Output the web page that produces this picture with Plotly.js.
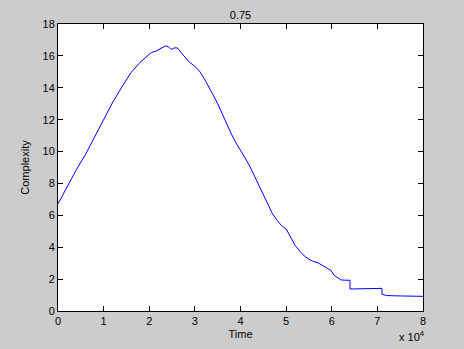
<!DOCTYPE html>
<html>
<head>
<meta charset="utf-8">
<script src="https://cdn.plot.ly/plotly-3.0.1.min.js"></script>
<style>html,body{margin:0;padding:0;background:#cccccc;}#chart{width:464px;height:349px;}</style>
</head>
<body>
<div id="chart"></div>
<script>
const timeValues = [0, 2000, 4000, 6000, 8000, 10000, 12000, 14000, 16000, 18000, 19600, 20500, 21500, 22500, 23500, 24200, 24800, 25500, 26200, 27000, 27800, 28800, 30000, 31000, 32000, 33000, 34000, 35000, 36000, 37000, 38000, 39000, 40000, 41000, 42000, 43000, 44000, 45000, 46000, 47000, 48000, 49000, 50000, 51000, 52000, 53000, 54000, 55000, 56000, 57000, 58000, 59000, 59800, 60500, 61200, 62000, 63000, 64000, 64000, 66000, 68000, 70000, 71000, 71000, 72000, 74000, 76000, 78000, 80000];
const complexityValues = [6.72, 7.8, 8.85, 9.8, 10.9, 12.1, 13.1, 14.05, 14.95, 15.6, 16.0, 16.22, 16.3, 16.45, 16.62, 16.58, 16.4, 16.5, 16.5, 16.2, 15.95, 15.6, 15.35, 15.05, 14.6, 14.1, 13.55, 13.0, 12.35, 11.7, 11.1, 10.55, 10.1, 9.6, 9.1, 8.5, 7.85, 7.2, 6.6, 6.1, 5.7, 5.35, 5.15, 4.65, 4.1, 3.75, 3.45, 3.25, 3.1, 3.02, 2.85, 2.7, 2.55, 2.25, 2.1, 1.95, 1.93, 1.93, 1.38, 1.38, 1.4, 1.42, 1.42, 1.05, 0.97, 0.95, 0.95, 0.93, 0.92];
const xTickVals = [0, 10000, 20000, 30000, 40000, 50000, 60000, 70000, 80000];
const xTickText = ["0", "1", "2", "3", "4", "5", "6", "7", "8"];
const yTickVals = [0, 2, 4, 6, 8, 10, 12, 14, 16, 18];

const font = {family: "Liberation Sans, Arial, sans-serif", size: 11, color: "#000000"};
const axisCommon = {
  showgrid: false, zeroline: false, showline: true, linecolor: "#000000", linewidth: 1,
  mirror: "ticks", ticks: "inside", ticklen: 5, tickcolor: "#000000", tickwidth: 1,
  tickfont: font
};
Plotly.newPlot("chart", [{
  x: timeValues, y: complexityValues, type: "scatter", mode: "lines",
  line: {color: "#0000ff", width: 1}, hoverinfo: "skip"
}], {
  width: 464, height: 349,
  paper_bgcolor: "#cccccc", plot_bgcolor: "#ffffff",
  margin: {l: 58, r: 41, t: 24, b: 38},
  showlegend: false,
  font: font,
  title: {text: "0.75", font: font, x: 0.5, xref: "paper", y: 0.957, yanchor: "middle"},
  xaxis: Object.assign({}, axisCommon, {
    range: [0, 80000], tickmode: "array", tickvals: xTickVals, ticktext: xTickText,
    title: {text: "Time", font: font, standoff: 4}
  }),
  yaxis: Object.assign({}, axisCommon, {
    range: [0, 18], tickmode: "array", tickvals: yTickVals,
    title: {text: "Complexity", font: font, standoff: 10}
  }),
  annotations: [{
    text: "x 10<sup>4</sup>", xref: "paper", yref: "paper", x: 1.01, y: -0.088,
    xanchor: "right", yanchor: "middle", showarrow: false, font: font
  }]
}, {staticPlot: true});
</script>
</body>
</html>
